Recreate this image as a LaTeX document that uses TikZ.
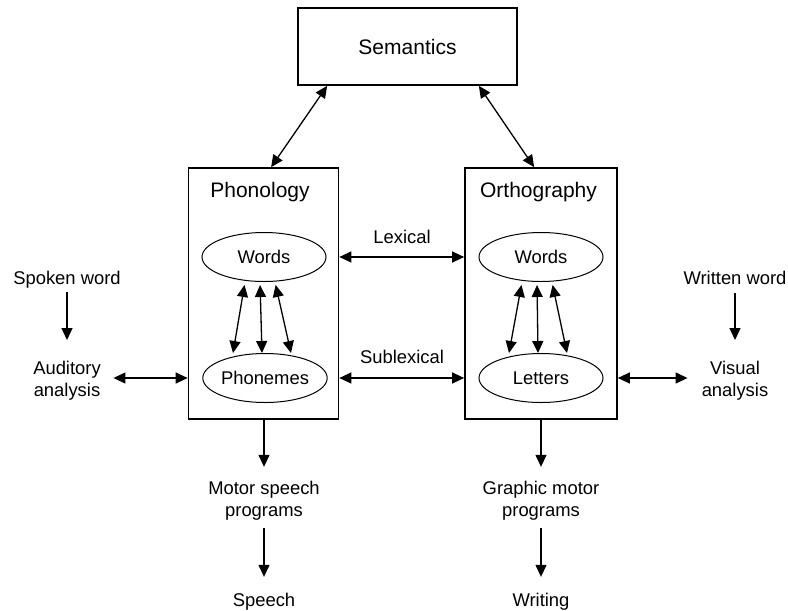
\documentclass[tikz,border=0pt]{standalone}
\usepackage{fontspec}
\setmainfont{Liberation Sans}
\usetikzlibrary{arrows.meta,shapes.geometric}

\tikzset{
  lbl/.style={font=\fontsize{18.4}{22}\selectfont, inner sep=0pt, align=center},
  ttl/.style={font=\fontsize{21}{25}\selectfont, inner sep=0pt},
  module/.style={draw, line width=1.7pt, inner sep=0pt},
  unit/.style={draw, ellipse, line width=1pt, inner sep=0pt,
    minimum width=124pt, minimum height=49pt,
    font=\fontsize{18.4}{22}\selectfont},
  tip/.tip={Triangle[length=12pt,width=11pt]},
  arr/.style={-tip, line width=1.3pt},
  dbl/.style={tip-tip, line width=1.3pt},
}

\begin{document}
\begin{tikzpicture}[x=1pt,y=-1pt]
\useasboundingbox (0,0) rectangle (788,611);

% central modules
\node[module, minimum width=219pt, minimum height=77pt, ttl] (sem) at (407.5,46.5) {Semantics};
\node[module, minimum width=150pt, minimum height=251pt] (phon) at (263.5,293.5) {};
\node[module, minimum width=152pt, minimum height=251pt] (orth) at (541,293.5) {};
\node[ttl] (phontitle) at (260,192) {Phonology};
\node[ttl] (orthtitle) at (538.5,192) {Orthography};

% units inside the modules
\node[unit] (pw) at (264,257) {Words};
\node[unit] (pp) at (265,378) {Phonemes};
\node[unit] (ow) at (541,257) {Words};
\node[unit] (ol) at (541,378) {Letters};

% route labels
\node[lbl] (lex) at (402,237) {Lexical};
\node[lbl] (sublex) at (402,357) {Sublexical};

% input side
\node[lbl] (spoken) at (67,280) {Spoken word};
\node[lbl] (aud) at (67,380.8) {Auditory\\analysis};
\node[lbl] (written) at (735,278) {Written word};
\node[lbl] (vis) at (735,380.8) {Visual\\analysis};

% output side
\node[lbl] (motor) at (264,500.8) {Motor speech\\programs};
\node[lbl] (speech) at (264,601.8) {Speech};
\node[lbl] (graphic) at (541,500.8) {Graphic motor\\programs};
\node[lbl] (writing) at (541,601.8) {Writing};

% semantics links
\draw[dbl] ([xshift=30pt]sem.south west) -- ([xshift=83.5pt]phon.north west);
\draw[dbl] ([xshift=-39pt]sem.south east) -- ([xshift=70pt]orth.north west);

% lexical and sublexical routes
\draw[dbl] (phon.east |- pw) -- (orth.west |- ow);
\draw[dbl] (phon.east |- pp) -- (orth.west |- ol);

% words <-> sub-word units
\foreach \t/\b in {-19/-32, -4/-3, 11/26} {
  \draw[dbl, shorten <=3pt] ([xshift=\t pt]pw.south) -- ([xshift=\b pt]pp.north);
  \draw[dbl, shorten <=3pt] ([xshift=\t pt]ow.south) -- ([xshift=\b pt]ol.north);
}

% perception
\draw[arr, shorten <=3.6pt, shorten >=21pt] (spoken) -- (aud);
\draw[dbl, shorten <=12.5pt] (aud.east |- pp) -- (phon.west |- pp);
\draw[arr, shorten <=8.4pt, shorten >=21pt] (written) -- (vis);
\draw[dbl, shorten >=14pt] (orth.east |- ol) -- (vis.west |- ol);

% production
\draw[arr, shorten >=14.2pt] (phon.south -| motor) -- (motor);
\draw[arr, shorten <=7.6pt, shorten >=16.2pt] (motor) -- (speech);
\draw[arr, shorten >=14.2pt] (orth.south -| graphic) -- (graphic);
\draw[arr, shorten <=7.6pt, shorten >=16.2pt] (graphic) -- (writing);
\end{tikzpicture}
\end{document}
